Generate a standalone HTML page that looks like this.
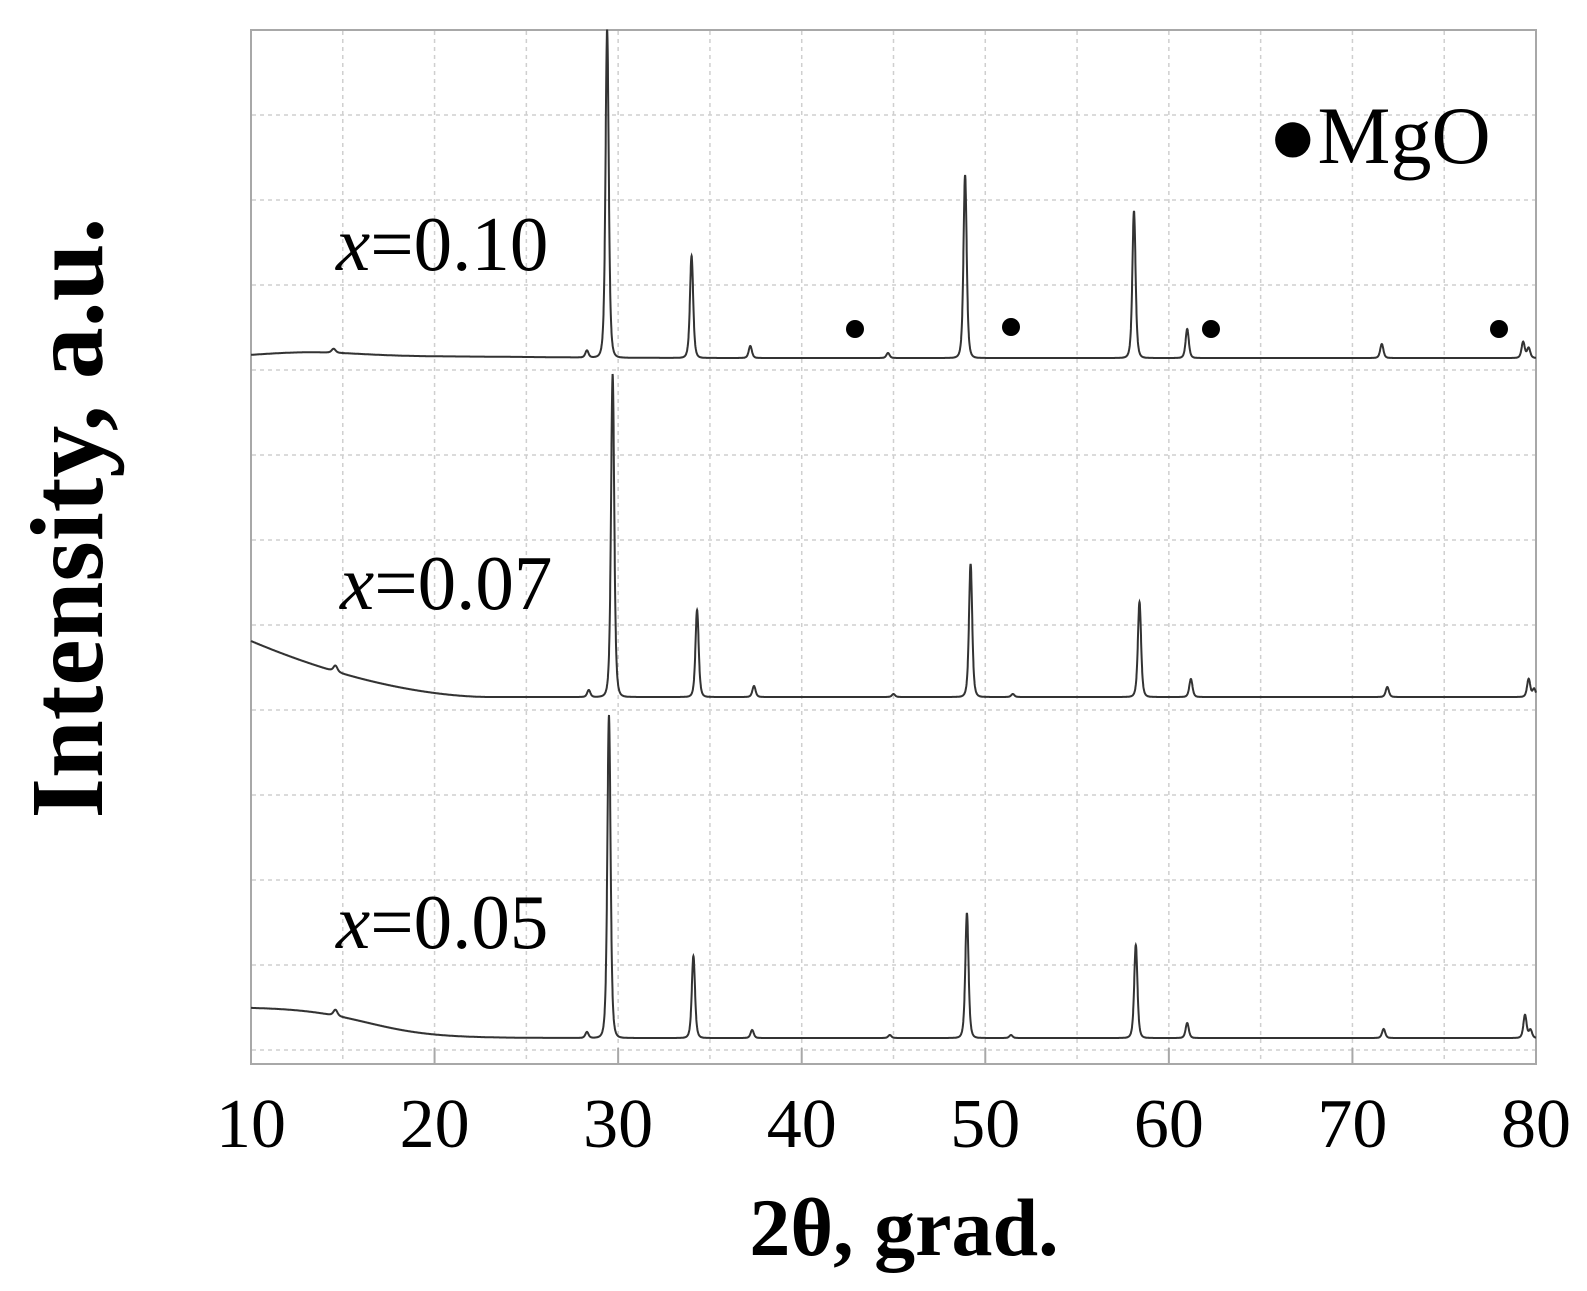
<!DOCTYPE html>
<html><head><meta charset="utf-8"><style>
html,body{margin:0;padding:0;background:#fff;}
svg{display:block;}
</style></head><body>
<svg id="s" width="1587" height="1291" xmlns="http://www.w3.org/2000/svg" font-family="Liberation Serif, serif">
<g id="grid" stroke="#cfcfcf" stroke-width="1.5" stroke-dasharray="4,4" fill="none"></g>
<rect x="251" y="30" width="1285" height="1034" fill="none" stroke="#a8a8a8" stroke-width="2"/>
<g id="ticks" stroke="#a8a8a8" stroke-width="2"></g>
<g id="series" fill="none" stroke="#333" stroke-width="2"></g>
<g fill="#000">
<circle cx="855" cy="329" r="9"/><circle cx="1011" cy="327" r="9"/><circle cx="1211" cy="329" r="9"/><circle cx="1499" cy="329" r="9"/>
</g>
<text x="1268" y="163" font-size="82">●MgO</text>
<text x="336" y="270" font-size="77"><tspan font-style="italic">x</tspan>=0.10</text>
<text x="340" y="609" font-size="77"><tspan font-style="italic">x</tspan>=0.07</text>
<text x="336" y="948" font-size="77"><tspan font-style="italic">x</tspan>=0.05</text>
<g font-size="70" text-anchor="middle" id="xl"></g>
<text x="904" y="1255" font-size="82" font-weight="bold" text-anchor="middle">2θ, grad.</text>
<text transform="translate(102,518) rotate(-90)" font-size="104" font-weight="bold" text-anchor="middle">Intensity, a.u.</text>
</svg>
<script>
var X=function(v){return 251+(v-10)*1285/70;};
var g=document.getElementById('grid'),t=document.getElementById('ticks'),xl=document.getElementById('xl'),se=document.getElementById('series');
var ns='http://www.w3.org/2000/svg';
function el(p,n,a){var e=document.createElementNS(ns,n);for(var k in a)e.setAttribute(k,a[k]);p.appendChild(e);return e;}
for(var v=15;v<80;v+=5){el(g,'line',{x1:X(v),x2:X(v),y1:31,y2:1063});}
for(var y=115;y<1060;y+=85){el(g,'line',{x1:252,x2:1535,y1:y,y2:y});}
for(var v=10;v<=80;v+=10){if(v>10&&v<80)el(t,'line',{x1:X(v),x2:X(v),y1:1064,y2:1048});var tx=el(xl,'text',{x:X(v),y:1147});tx.textContent=v;}
function series(base,bg,peaks){
 var d='';
 for(var i=0;i<=7000;i++){
  var v=10+i*0.01;var y=base-bg(v);
  for(var j=0;j<peaks.length;j++){var p=peaks[j];var w=p[2]||0.12;var dx=(v-p[0])/w;y-=p[1]/(1+dx*dx*dx*dx*0.5+dx*dx);}
  d+=(i?'L':'M')+X(v).toFixed(1)+' '+y.toFixed(1);
 }
 el(se,'path',{d:d});
}
series(358,function(v){return 5*Math.exp(-Math.pow((v-13)/4,2))+1.5*Math.exp(-Math.pow((v-20)/8,2));},
 [[14.5,4,0.15],[28.3,7],[29.4,328],[34.0,102],[37.2,12],[44.7,5],[48.9,183],[58.1,147],[61.0,29],[71.6,14],[79.3,16],[79.6,10]]);
series(697,function(v){var b=0;if(v<23){b=56*Math.pow((23-v)/13,1.8);}return b;},
 [[14.6,6,0.15],[28.4,7],[29.7,323],[34.3,87],[37.4,11],[45.0,3],[49.2,133],[51.5,3],[58.4,95],[61.2,18],[71.9,10],[79.6,18],[79.9,8]]);
series(1039,function(v){return 31/(1+Math.exp((v-16.3)/1.8))+1;},
 [[14.6,6,0.15],[28.3,6],[29.5,323],[34.1,82],[37.3,8],[44.8,3],[49.0,125],[51.4,3],[58.2,93],[61.0,15],[71.7,9],[79.4,23],[79.7,8]]);
</script>
</body></html>
